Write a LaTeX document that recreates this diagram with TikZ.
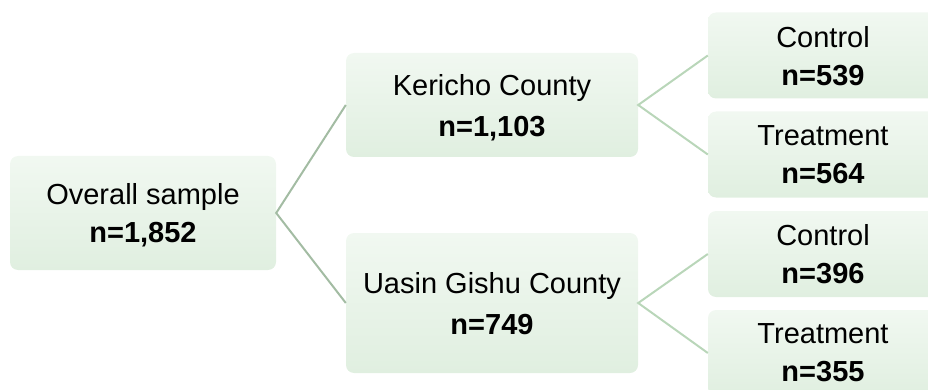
\documentclass[tikz,border=0pt]{standalone}
\usepackage{fontspec}
\setmainfont{Liberation Sans}
\usetikzlibrary{positioning}

\definecolor{boxtop}{HTML}{F1F8F1}
\definecolor{boxbot}{HTML}{E0EFE0}
\definecolor{linkdark}{HTML}{A3BCA3}
\definecolor{linklight}{HTML}{B9D6B9}

\tikzset{
  box/.style={rounded corners=8pt, top color=boxtop, bottom color=boxbot,
    draw=none, align=center, inner sep=0pt, text depth=0pt,
    font=\fontsize{29}{38}\selectfont},
  county/.style={box, minimum width=292pt, font=\fontsize{29}{41}\selectfont},
  leaf/.style={box, minimum width=230pt, minimum height=86pt},
  link/.style={line width=2pt, draw=#1},
}

\begin{document}
\begin{tikzpicture}[x=1pt,y=-1pt]
  \useasboundingbox (0,0) rectangle (928,390);
  \clip (0,0) rectangle (928,390);
  % first split: whole sample into the two counties
  \node(overall)[box, minimum width=266pt, minimum height=114pt] at (143,213)
    {Overall sample\\\textbf{n=1,852}};
  \node(kericho)[county, minimum height=104pt] at (492,105)
    {Kericho County\\\textbf{n=1,103}};
  \node(uasin)[county, minimum height=140pt] at (492,303)
    {Uasin Gishu County\\\textbf{n=749}};
  % second split: arms within each county
  \node(ctrlK)[leaf] at (823,55.5) {Control\\\textbf{n=539}};
  \node(treatK)[leaf] at (823,154.5) {Treatment\\\textbf{n=564}};
  \node(ctrlU)[leaf] at (823,254) {Control\\\textbf{n=396}};
  \node(treatU)[leaf] at (823,353) {Treatment\\\textbf{n=355}};
  \draw[link=linkdark] (kericho.west) -- (overall.east) -- (uasin.west);
  \draw[link=linklight] (ctrlK.west) -- (kericho.east) -- (treatK.west);
  \draw[link=linklight] (ctrlU.west) -- (uasin.east) -- (treatU.west);
\end{tikzpicture}
\end{document}
